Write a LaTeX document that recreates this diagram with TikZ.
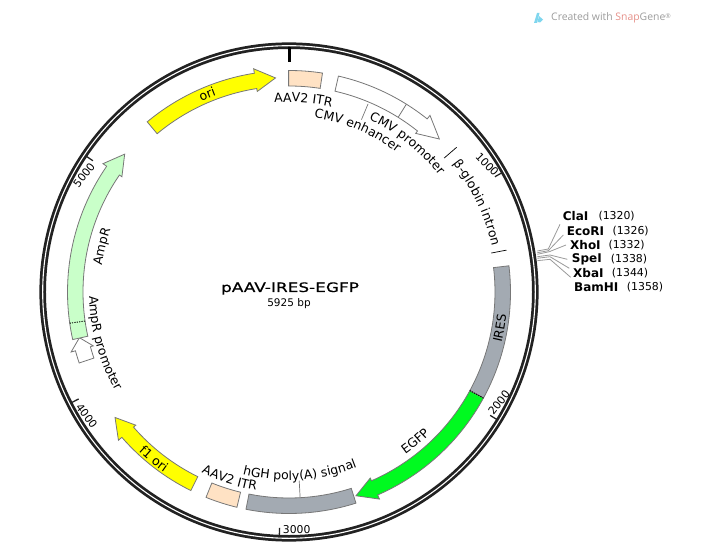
\documentclass[tikz,border=0pt]{standalone}
\usepackage{fontspec}
\setmainfont{DejaVu Sans}
\newfontfamily\logofont{Open Sans}
\newfontfamily\titlefont[FakeBold=0.5,FakeStretch=1.3]{DejaVu Sans}
\usetikzlibrary{decorations.text}
\definecolor{edgec}{HTML}{777777}
\definecolor{ringc}{HTML}{222222}
\definecolor{peach}{HTML}{FFE2C4}
\definecolor{slate}{HTML}{A3AAB2}
\definecolor{yel}{HTML}{FFFF00}
\definecolor{grn}{HTML}{00FA20}
\definecolor{palegrn}{HTML}{C9FFC9}
\definecolor{leadc}{HTML}{999999}
\definecolor{snapc}{HTML}{E58F88}
\definecolor{logoc}{HTML}{9C9C9C}
\definecolor{dropc}{HTML}{7FD6EE}
\def\rin{206pt}\def\rout{221.5pt}\def\rhi{203pt}\def\rho{226pt}\def\rmid{214.5pt}
% arrow feature: fill, tail angle, head-base angle, tip angle (clockwise from top)
\newcommand{\featarrow}[4]{%
 \draw[feat,fill=#1] ({90-(#2)}:\rout) arc[start angle={90-(#2)},end angle={90-(#3)},radius=\rout]
  -- ({90-(#3)}:\rho) -- ({90-(#4)}:\rmid) -- ({90-(#3)}:\rhi) -- ({90-(#3)}:\rin)
  arc[start angle={90-(#3)},end angle={90-(#2)},radius=\rin] -- cycle;}
\newcommand{\featbox}[3]{%
 \draw[feat,fill=#1] ({90-(#2)}:\rout) arc[start angle={90-(#2)},end angle={90-(#3)},radius=\rout]
  -- ({90-(#3)}:\rin) arc[start angle={90-(#3)},end angle={90-(#2)},radius=\rin] -- cycle;}
% curved label: centre angle, baseline radius, text. cw = letters outward, ccw = letters inward
\newcommand{\cwlabel}[3]{%
 \path[decorate,decoration={text along path,text align=center,text={|\fontsize{12.5pt}{14pt}\selectfont|#3}}]
  ({90-(#1)+50}:#2pt) arc[start angle={90-(#1)+50},end angle={90-(#1)-50},radius=#2pt];}
\newcommand{\ccwlabel}[3]{%
 \path[decorate,decoration={text along path,text align=center,text={|\fontsize{12.5pt}{14pt}\selectfont|#3}}]
  ({90-(#1)-50}:#2pt) arc[start angle={90-(#1)-50},end angle={90-(#1)+50},radius=#2pt];}
\tikzset{
 feat/.style={draw=edgec,line width=0.8pt,line join=miter},
 dotsep/.style={black,line width=0.9pt,dash pattern=on 1.2pt off 1.2pt},
 leader/.style={edgec,line width=0.7pt},
 flank/.style={black,line width=0.7pt},
 tickm/.style={ringc,line width=1.3pt},
 ticktext/.style={font=\fontsize{10.8pt}{12pt}\selectfont,inner sep=0pt},
 enz/.style={font=\bfseries\fontsize{12pt}{14pt}\selectfont,inner sep=0pt,anchor=west},
 enzn/.style={font=\fontsize{10.9pt}{13pt}\selectfont,inner sep=0pt,anchor=west},
 site/.style={leadc,line width=0.8pt}
}
\begin{document}
\begin{tikzpicture}[x=1pt,y=1pt]
\useasboundingbox (-289,292) rectangle (417,-259);
% backbone
\draw[ringc,line width=6.6pt] (0,0) circle[radius=246.3pt];
\draw[white,line width=1.1pt] (0,0) circle[radius=246.3pt];
% origin tick and scale ticks
\draw[black,line width=3pt] (90:230pt) -- (90:245pt);
\foreach \a in {60.76,121.52,182.28,243.04,303.8} \draw[tickm] ({90-\a}:236pt) -- ({90-\a}:245pt);
\node[ticktext,rotate=-46] (t1000) at (198.3,127.7) {1000};
\node[ticktext,rotate=52] (t2000) at (210,-110.7) {2000};
\node[ticktext] (t3000) at (7.7,-238) {3000};
\node[ticktext,rotate=-53] (t4000) at (-202.3,-123.7) {4000};
\node[ticktext,rotate=52] (t5000) at (-205,117) {5000};
% features
\featarrow{yel}{-39.8}{-9}{-3.6}
\featbox{peach}{-0.1}{8.7}
\featarrow{white}{12.9}{38.6}{44.5}
\draw[feat] ({90-32}:\rin) -- ({90-32}:\rout);
\featbox{slate}{83.2}{118.6}
\featarrow{grn}{118.6}{156.4}{161.8}
\draw[dotsep] ({90-118.6}:\rin) -- ({90-118.6}:\rout);
\featbox{slate}{162.4}{191.2}
\featbox{peach}{193.6}{202}
\featarrow{yel}{206.3}{229}{234.2}
\featarrow{white}{251.3}{254.6}{257.7}
\featarrow{palegrn}{257.6}{304.6}{310}
\draw[dotsep] ({90-261.9}:\rin) -- ({90-261.9}:\rout);
% flanking marks and label leaders
\draw[flank] ({90-49.2}:205pt) -- ({90-49.2}:221.5pt);
\draw[flank] ({90-79.1}:206pt) -- ({90-79.1}:221.5pt);
\draw[leader] ({90-22.8}:187pt) -- ({90-22.8}:204pt);
\draw[leader] ({90-176.9}:189pt) -- ({90-176.9}:206pt);
% curved labels
\cwlabel{4.3}{190}{AAV2 ITR}
\cwlabel{23}{176}{CMV enhancer}
\cwlabel{38.5}{190}{CMV promoter}
\cwlabel{64.6}{208}{β-globin intron}
\cwlabel{-22.5}{209.5}{ori}
\ccwlabel{99.7}{218.5}{IRES}
\ccwlabel{139.8}{200}{EGFP}
\ccwlabel{176.5}{188}{hGH poly(A) signal}
\ccwlabel{197.6}{201}{AAV2 ITR}
\ccwlabel{219}{219.5}{f1 ori}
\cwlabel{283.7}{189}{AmpR}
\ccwlabel{254.5}{200}{AmpR promoter}
% title
\node[font=\titlefont\fontsize{13pt}{15pt}\selectfont,inner sep=0pt] (title) at (1,3.5) {pAAV-IRES-EGFP};
\node[font=\fontsize{10.5pt}{12pt}\selectfont,inner sep=0pt] (size) at (0,-11.7) {5925 bp};
% enzyme sites
\node[enz] (cla) at (273.7,75.5) {ClaI};
\node[enzn] at (309.3,75.5) {(1320)};
\node[enz] (eco) at (277.7,61) {EcoRI};
\node[enzn] at (323.3,61) {(1326)};
\node[enz] (xho) at (281,47) {XhoI};
\node[enzn] at (319.3,47) {(1332)};
\node[enz] (spe) at (282.7,33) {SpeI};
\node[enzn] at (321.7,33) {(1338)};
\node[enz] (xba) at (284,19) {XbaI};
\node[enzn] at (322.7,19) {(1344)};
\node[enz] (bam) at (285,5) {BamHI};
\node[enzn] at (337.7,5) {(1358)};
\coordinate (r1) at (248.3,41);   \coordinate (e1) at (259.3,43);  \coordinate (l1) at (271,67.7);
\coordinate (r2) at (248.3,39.3); \coordinate (e2) at (259.3,41.3);\coordinate (l2) at (274.3,57);
\coordinate (r3) at (248.3,37.7); \coordinate (e3) at (260.3,40.3);\coordinate (l3) at (277,47);
\coordinate (r4) at (248.3,35.3); \coordinate (e4) at (261,37);    \coordinate (l4) at (278.3,32.7);
\coordinate (r5) at (248.3,33.7); \coordinate (e5) at (261,35.3);  \coordinate (l5) at (280.3,23.7);
\coordinate (r6) at (248.3,31.3); \coordinate (e6) at (261,32.7);  \coordinate (l6) at (281.7,14.7);
\foreach \i in {1,...,6} \draw[site] (r\i) -- (e\i) -- (l\i);
% logo
\fill[dropc] (245,269) -- (248,279) -- (250.5,279) -- (248,269) -- cycle;
\fill[dropc] (250,276) -- (254,272.5) -- (251,269.5) -- (248.5,270) -- cycle;
\node[font=\logofont\fontsize{10.4pt}{12pt}\selectfont,text=logoc,inner sep=0pt,anchor=west] (logo) at (262,274) {Created with \textcolor{snapc}{Snap}Gene\raisebox{2.5pt}{\fontsize{6.5pt}{7pt}\selectfont ®}};
\end{tikzpicture}
\end{document}
